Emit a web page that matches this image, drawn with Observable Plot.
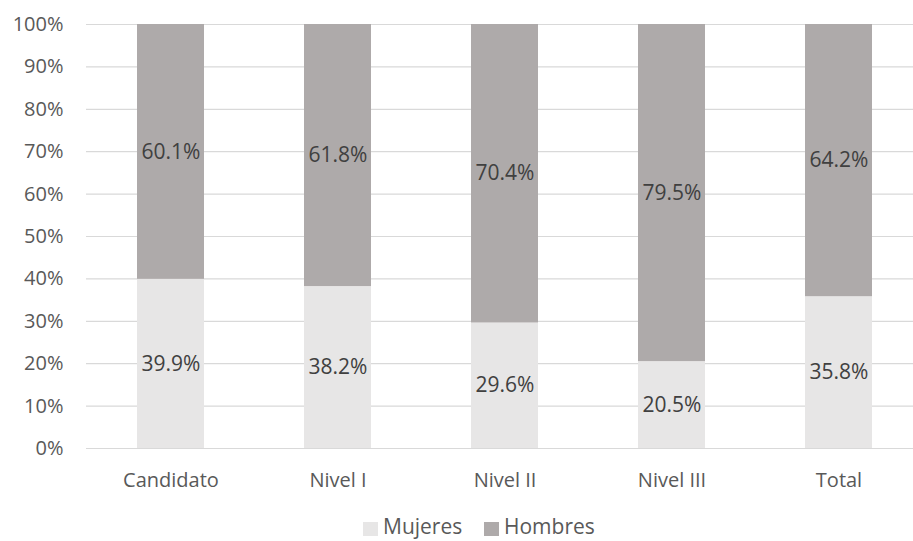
<!DOCTYPE html>
<html>
<head>
<meta charset="utf-8">
<script src="https://cdn.jsdelivr.net/npm/d3@7"></script>
<script src="https://cdn.jsdelivr.net/npm/@observablehq/plot@0.6"></script>
<style>
  html, body { margin: 0; padding: 0; background: #fff; overflow: hidden; }
  body { width: 913px; height: 541px; font-family: "Open Sans", sans-serif; }
  #legend { position: relative; height: 41px; }
  .item { position: absolute; top: 16px; display: flex; align-items: center; font-size: 21px; line-height: 21px; color: #595959; }
  .sw { width: 15px; height: 14px; margin-right: 5px; margin-top: 4px; }
</style>
</head>
<body>
<div id="chart"></div>
<div id="legend"></div>
<script>
const categories = ["Candidato", "Nivel I", "Nivel II", "Nivel III", "Total"];
const mujeres = [39.9, 38.2, 29.6, 20.5, 35.8];
const hombres = [60.1, 61.8, 70.4, 79.5, 64.2];
const seriesNames = ["Mujeres", "Hombres"];
const seriesColors = ["#e7e6e6", "#aeaaaa"];
const yTicks = [0, 10, 20, 30, 40, 50, 60, 70, 80, 90, 100];

const rows = [
  ...categories.map((c, i) => ({cat: c, series: "Mujeres", value: mujeres[i]})),
  ...categories.map((c, i) => ({cat: c, series: "Hombres", value: hombres[i]}))
];

const chart = Plot.plot({
  width: 913,
  height: 500,
  marginLeft: 86,
  marginRight: 0,
  marginTop: 24,
  marginBottom: 52,
  style: {fontFamily: "Open Sans, sans-serif", background: "#fff", overflow: "visible"},
  x: {domain: categories, range: [86, 922], paddingInner: 0.6, paddingOuter: 0.3, label: null},
  y: {domain: [0, 100], label: null},
  color: {domain: seriesNames, range: seriesColors},
  marks: [
    Plot.ruleY(yTicks, {stroke: "#d9d9d9", strokeWidth: 1.2}),
    Plot.barY(rows, {x: "cat", y: "value", fill: "series", z: "series", inset: 0}),
    Plot.text(rows, Plot.stackY({
      x: "cat", y: "value", z: "series",
      text: d => d.value.toFixed(1) + "%",
      fill: "#404040", fontSize: 21
    })),
    Plot.axisY(yTicks, {tickSize: 0, tickPadding: 23, tickFormat: d => d + "%", fontSize: 20, color: "#595959", label: null}),
    Plot.axisX({tickSize: 0, tickPadding: 24, fontSize: 20, color: "#595959", label: null})
  ]
});
document.getElementById("chart").appendChild(chart);

const legend = document.getElementById("legend");
const lefts = [363, 484];
seriesNames.forEach((name, i) => {
  const item = document.createElement("div");
  item.className = "item";
  item.style.left = lefts[i] + "px";
  const sw = document.createElement("span");
  sw.className = "sw";
  sw.style.background = seriesColors[i];
  const label = document.createElement("span");
  label.textContent = name;
  item.appendChild(sw);
  item.appendChild(label);
  legend.appendChild(item);
});
</script>
</body>
</html>
